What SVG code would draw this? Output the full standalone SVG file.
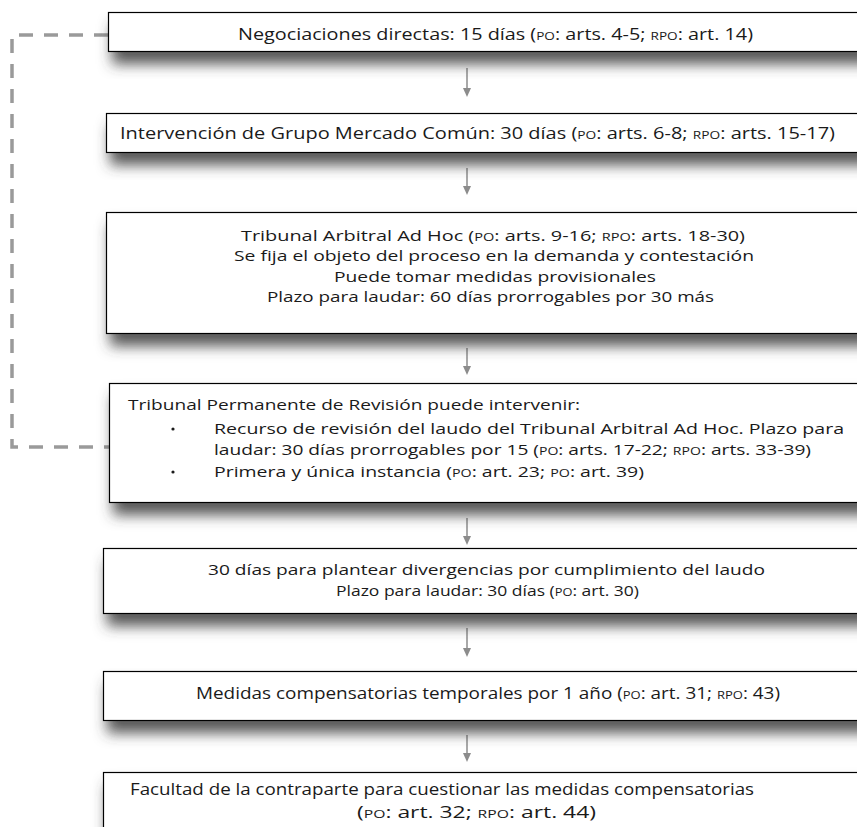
<svg xmlns="http://www.w3.org/2000/svg" width="857" height="827" viewBox="0 0 857 827">
<style>
.box{fill:#fff;stroke:#000;stroke-width:1.2;filter:url(#sh)}
.t{font-family:"Open Sans","Noto Sans",sans-serif;font-size:16px;fill:#1a1a1a}
.c{font-size:15px}
.sc{font-size:11px}
.arr{stroke:#8c8c8c;stroke-width:1.5;fill:none;marker-end:url(#ah)}
.dash{stroke:#9a9a9a;stroke-width:3.5;fill:none;stroke-dasharray:14 11}
</style>
<defs>
<filter id="sh" x="-10%" y="-30%" width="120%" height="200%">
<feGaussianBlur in="SourceAlpha" stdDeviation="7"/>
<feOffset dx="4" dy="12" result="b"/>
<feFlood flood-color="#3a3a3a" flood-opacity="0.85"/>
<feComposite in2="b" operator="in"/>
<feMerge><feMergeNode/><feMergeNode in="SourceGraphic"/></feMerge>
</filter>
<marker id="ah" markerWidth="10" markerHeight="8" refX="1" refY="4" orient="auto" markerUnits="userSpaceOnUse">
<path d="M0,0 L9,4 L0,8 Z" fill="#8c8c8c"/>
</marker>
</defs>
<g id="connectors">
<path class="dash" d="M108,35 H12 V447 H110"/>
<line class="arr" x1="467" y1="68" x2="467" y2="89"/>
<line class="arr" x1="467" y1="168" x2="467" y2="187"/>
<line class="arr" x1="467" y1="348" x2="467" y2="367"/>
<line class="arr" x1="467" y1="518" x2="467" y2="537"/>
<line class="arr" x1="467" y1="628" x2="467" y2="649"/>
<line class="arr" x1="467" y1="735" x2="467" y2="754"/>
</g>
<g id="n1">
<rect class="box" x="108.5" y="12.5" width="770" height="39"/>
<text class="t" x="238" y="40" textLength="515" lengthAdjust="spacingAndGlyphs">Negociaciones directas: 15 días (<tspan class="sc">PO</tspan>: arts. 4-5; <tspan class="sc">RPO</tspan>: art. 14)</text>
</g>
<g id="n2">
<rect class="box" x="106.5" y="113.5" width="770" height="39"/>
<text class="t" x="120" y="139" textLength="715" lengthAdjust="spacingAndGlyphs">Intervención de Grupo Mercado Común: 30 días (<tspan class="sc">PO</tspan>: arts. 6-8; <tspan class="sc">RPO</tspan>:  arts. 15-17)</text>
</g>
<g id="n3">
<rect class="box" x="106.5" y="212.5" width="770" height="121"/>
<text class="t c" x="241" y="241" textLength="504" lengthAdjust="spacingAndGlyphs">Tribunal Arbitral Ad Hoc (<tspan class="sc">PO</tspan>: arts. 9-16; <tspan class="sc">RPO</tspan>: arts. 18-30)</text>
<text class="t c" x="234" y="261" textLength="520" lengthAdjust="spacingAndGlyphs">Se fija el objeto del proceso en la demanda y contestación</text>
<text class="t c" x="334" y="282" textLength="322" lengthAdjust="spacingAndGlyphs">Puede tomar medidas provisionales</text>
<text class="t c" x="267" y="302" textLength="447" lengthAdjust="spacingAndGlyphs">Plazo para laudar: 60 días prorrogables por 30 más</text>
</g>
<g id="n4">
<rect class="box" x="109.5" y="383.5" width="770" height="119"/>
<text class="t c" x="128" y="410" textLength="452" lengthAdjust="spacingAndGlyphs">Tribunal Permanente de Revisión puede intervenir:</text>
<circle cx="173" cy="429" r="1.6" fill="#1a1a1a"/>
<text class="t c" x="214" y="434" textLength="630" lengthAdjust="spacingAndGlyphs">Recurso de revisión del laudo del Tribunal Arbitral Ad Hoc. Plazo para</text>
<text class="t c" x="214" y="455" textLength="597" lengthAdjust="spacingAndGlyphs">laudar: 30 días prorrogables por 15 (<tspan class="sc">PO</tspan>: arts. 17-22; <tspan class="sc">RPO</tspan>: arts. 33-39)</text>
<circle cx="173" cy="472" r="1.6" fill="#1a1a1a"/>
<text class="t c" x="214" y="477" textLength="430" lengthAdjust="spacingAndGlyphs">Primera y única instancia (<tspan class="sc">PO</tspan>: art. 23; <tspan class="sc">PO</tspan>: art. 39)</text>
</g>
<g id="n5">
<rect class="box" x="103.5" y="548.5" width="770" height="65"/>
<text class="t c" x="208" y="575" textLength="557" lengthAdjust="spacingAndGlyphs">30 días para plantear divergencias por cumplimiento del laudo</text>
<text class="t c" x="336" y="596" textLength="303" lengthAdjust="spacingAndGlyphs">Plazo para laudar: 30 días (<tspan class="sc">PO</tspan>: art. 30)</text>
</g>
<g id="n6">
<rect class="box" x="103.5" y="671.5" width="770" height="49"/>
<text class="t" x="196" y="699" textLength="584" lengthAdjust="spacingAndGlyphs">Medidas compensatorias temporales por 1 año (<tspan class="sc">PO</tspan>: art. 31; <tspan class="sc">RPO</tspan>: 43)</text>
</g>
<g id="n7">
<rect class="box" x="103.5" y="772.5" width="770" height="80"/>
<text class="t" x="130" y="795" textLength="624" lengthAdjust="spacingAndGlyphs">Facultad de la contraparte para cuestionar las medidas compensatorias</text>
<text class="t" x="357" y="818" textLength="239" lengthAdjust="spacingAndGlyphs">(<tspan class="sc">PO</tspan>: art. 32; <tspan class="sc">RPO</tspan>: art. 44)</text>
</g>
</svg>
